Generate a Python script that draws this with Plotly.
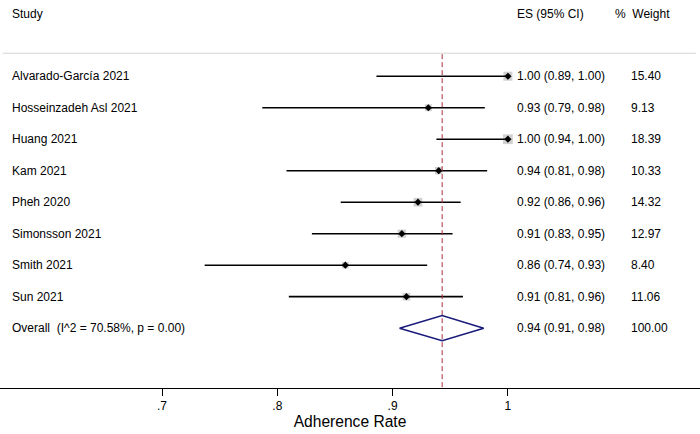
import plotly.graph_objects as go
import math

studies = ["Alvarado-García 2021", "Hosseinzadeh Asl 2021", "Huang 2021", "Kam 2021",
           "Pheh 2020", "Simonsson 2021", "Smith 2021", "Sun 2021"]
es = [1.00, 0.931, 1.00, 0.94, 0.922, 0.908, 0.859, 0.912]
lo = [0.886, 0.787, 0.938, 0.808, 0.855, 0.830, 0.737, 0.810]
hi = [1.00, 0.980, 1.00, 0.982, 0.959, 0.952, 0.930, 0.961]
weights = [15.40, 9.13, 18.39, 10.33, 14.32, 12.97, 8.40, 11.06]
es_text = ["1.00 (0.89, 1.00)", "0.93 (0.79, 0.98)", "1.00 (0.94, 1.00)", "0.94 (0.81, 0.98)",
           "0.92 (0.86, 0.96)", "0.91 (0.83, 0.95)", "0.86 (0.74, 0.93)", "0.91 (0.81, 0.96)"]
weight_text = ["15.40", "9.13", "18.39", "10.33", "14.32", "12.97", "8.40", "11.06"]

overall_label = "Overall  (I^2 = 70.58%, p = 0.00)"
overall_es, overall_lo, overall_hi = 0.943, 0.906, 0.979
overall_text = "0.94 (0.91, 0.98)"
overall_weight = "100.00"

tick_vals = [0.7, 0.8, 0.9, 1.0]
tick_text = [".7", ".8", ".9", "1"]

FONT = "Liberation Sans, Arial, sans-serif"
n = len(studies)
rows = list(range(n))
orow = n

fig = go.Figure()

# weight boxes
fig.add_trace(go.Scatter(
    x=es, y=rows, mode="markers",
    marker=dict(symbol="square", size=[2.3 * math.sqrt(w) for w in weights],
                color="#bebebe", line=dict(width=0)),
    hoverinfo="skip", showlegend=False))

# CI lines
cx, cy = [], []
for i in rows:
    cx += [lo[i], hi[i], None]
    cy += [i, i, None]
fig.add_trace(go.Scatter(x=cx, y=cy, mode="lines",
                         line=dict(color="black", width=1.6),
                         hoverinfo="skip", showlegend=False))

# point estimates
fig.add_trace(go.Scatter(
    x=es, y=rows, mode="markers",
    marker=dict(symbol="diamond", size=5.5, color="black"),
    hoverinfo="skip", showlegend=False))

# overall dashed line
fig.add_trace(go.Scatter(
    x=[overall_es, overall_es], y=[-0.7, 9.95], mode="lines",
    line=dict(color="#a8323a", width=1, dash="5px,3px"),
    hoverinfo="skip", showlegend=False))

# overall diamond
h = 0.4
fig.add_trace(go.Scatter(
    x=[overall_lo, overall_es, overall_hi, overall_es, overall_lo],
    y=[orow, orow - h, orow, orow + h, orow], mode="lines",
    line=dict(color="#1a1a7a", width=1.6),
    hoverinfo="skip", showlegend=False))

# header separator
fig.add_shape(type="line", xref="paper", yref="y", x0=0.004, x1=0.994, y0=-0.73, y1=-0.73,
              line=dict(color="#d4d4d4", width=1))

ann = []
def txt(x, y, s):
    ann.append(dict(x=x, y=y, xref="paper", yref="y", text=s, showarrow=False,
                    xanchor="left", yanchor="middle", xshift=-1,
                    font=dict(family=FONT, size=12, color="black")))

txt(11 / 700, -1.97, "Study")
txt(516 / 700, -1.97, "ES (95% CI)")
txt(614 / 700, -1.97, "%  Weight")
for i in rows:
    txt(11 / 700, i, studies[i])
    txt(516 / 700, i, es_text[i])
    txt(630 / 700, i, weight_text[i])
txt(11 / 700, orow, overall_label)
txt(516 / 700, orow, overall_text)
txt(630 / 700, orow, overall_weight)

fig.update_layout(
    width=700, height=434,
    margin=dict(l=0, r=0, t=0, b=46),
    paper_bgcolor="white", plot_bgcolor="white",
    annotations=ann,
    xaxis=dict(range=[0.7 - 162 / 1153, 0.7 + 538 / 1153], showgrid=False, zeroline=False,
               showline=True, linecolor="black", linewidth=1,
               ticks="outside", ticklen=7, tickcolor="black", tickwidth=1,
               tickvals=tick_vals, ticktext=tick_text,
               tickfont=dict(family=FONT, size=12, color="black"),
               title=dict(text="Adherence Rate", font=dict(family=FONT, size=15.6, color="black"),
                          standoff=3)),
    yaxis=dict(range=[9.9, -2.42], visible=False),
    showlegend=False,
)

fig.write_html("out.html", config={"displayModeBar": False},
               post_script="document.body.style.margin='0';document.body.style.padding='0';")
